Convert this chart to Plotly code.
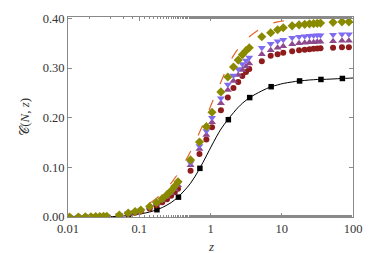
import plotly.graph_objects as go

# shared z grid of the finite-N series
z = [0.0105, 0.014, 0.0175, 0.021, 0.0245, 0.028, 0.0315, 0.035, 0.0525, 0.07, 0.0875,
     0.105, 0.14, 0.175, 0.21, 0.245, 0.28, 0.315, 0.35, 0.525, 0.70, 0.875, 1.05, 1.4,
     1.75, 2.1, 2.45, 2.8, 3.15, 3.5, 5.25, 7.0, 8.75, 10.5, 14, 17.5, 21, 24.5, 28,
     31.5, 35, 52.5, 70, 87.5]

olive = [0.0, 0.0, 0.0005, 0.0005, 0.001, 0.001, 0.0012, 0.0015, 0.004, 0.008, 0.011,
         0.014, 0.021, 0.029, 0.037, 0.045, 0.053, 0.062, 0.071, 0.115, 0.151, 0.182, 0.211, 0.252,
         0.282, 0.302, 0.316, 0.327, 0.335, 0.341, 0.363, 0.371, 0.377, 0.381, 0.385, 0.387, 0.388, 0.389, 0.3895,
         0.390, 0.3905, 0.392, 0.393, 0.393]

violet = [0.0, 0.0, 0.0005, 0.0005, 0.001, 0.001, 0.0011, 0.0014, 0.0038, 0.0076, 0.0105,
          0.0133, 0.020, 0.0277, 0.0353, 0.043, 0.0505, 0.059, 0.0675, 0.109, 0.143, 0.173, 0.200, 0.239,
          0.267, 0.285, 0.298, 0.308, 0.315, 0.321, 0.341, 0.349, 0.354, 0.357, 0.361, 0.363, 0.364, 0.365, 0.3655,
          0.366, 0.366, 0.367, 0.368, 0.368]

purple = [0.0, 0.0, 0.0004, 0.0005, 0.0009, 0.0009, 0.001, 0.0013, 0.0036, 0.0072, 0.010,
          0.0127, 0.019, 0.0265, 0.0337, 0.041, 0.048, 0.056, 0.064, 0.104, 0.137, 0.165, 0.191, 0.229,
          0.256, 0.274, 0.286, 0.296, 0.303, 0.309, 0.328, 0.336, 0.341, 0.344, 0.348, 0.350, 0.351, 0.352, 0.352,
          0.353, 0.353, 0.354, 0.355, 0.355]

red = [0.0, 0.0, 0.0003, 0.0004, 0.0007, 0.0008, 0.0009, 0.001, 0.003, 0.006, 0.0085,
       0.011, 0.0165, 0.023, 0.0295, 0.036, 0.043, 0.050, 0.057, 0.093, 0.127, 0.156, 0.181, 0.215,
       0.2405, 0.260, 0.272, 0.284, 0.292, 0.298, 0.3135, 0.325, 0.328, 0.331, 0.334, 0.336, 0.337, 0.338, 0.339,
       0.3395, 0.340, 0.341, 0.342, 0.342]

# black reference curve and its square markers
z_line = [0.01, 0.0105, 0.014, 0.0175, 0.021, 0.0245, 0.028, 0.0315, 0.035, 0.0525, 0.07, 0.0875,
          0.105, 0.14, 0.175, 0.21, 0.245, 0.28, 0.315, 0.35, 0.525, 0.70, 0.875, 1.05, 1.4,
          1.75, 2.1, 2.45, 2.8, 3.15, 3.5, 5.25, 7.0, 8.75, 10.5, 14, 17.5, 21, 24.5, 28,
          31.5, 35, 52.5, 70, 87.5, 100]
black_line = [0.0, 0.0, 0.0, 0.0, 0.0, 0.0, 0.0002, 0.0003, 0.0005, 0.0015, 0.003, 0.005,
              0.0065, 0.010, 0.0145, 0.019, 0.024, 0.029, 0.0345, 0.040, 0.068, 0.097, 0.123, 0.145, 0.177,
              0.196, 0.210, 0.221, 0.229, 0.235, 0.240, 0.254, 0.262, 0.266, 0.269, 0.272, 0.274, 0.275, 0.276, 0.2765,
              0.277, 0.277, 0.278, 0.279, 0.2795, 0.28]
dashed_line = [0.0, 0.0, 0.0005, 0.001, 0.0012, 0.0015, 0.002, 0.0025, 0.003, 0.006, 0.010, 0.014,
               0.019, 0.028, 0.038, 0.048, 0.058, 0.068, 0.078, 0.087, 0.132, 0.170, 0.202, 0.230, 0.272,
               0.304, 0.325, 0.339, 0.349, 0.357, 0.363, 0.381, 0.389, 0.393, 0.395, 0.398, 0.3995, 0.4005, 0.401, 0.4015,
               0.402, 0.402, 0.4025, 0.403, 0.403, 0.403]

z_sq = [0.0708, 0.177, 0.355, 0.71, 1.78, 3.55, 7.1, 17.8, 35.5, 71]
black_sq = [0.001, 0.0147, 0.040, 0.098, 0.196, 0.2405, 0.2624, 0.274, 0.277, 0.279]

x_ticks = [0.01, 0.1, 1, 10, 100]
x_ticktext = ["0.01", "0.1", "1", "10", "100"]
y_ticks = [0.0, 0.1, 0.2, 0.3, 0.4]
y_ticktext = ["0.00", "0.10", "0.20", "0.30", "0.40"]

FONT = "Liberation Serif"

fig = go.Figure()
fig.add_trace(go.Scatter(x=z_line, y=dashed_line, mode="lines", line=dict(color="#E0642E", width=1.2, dash="11px,17px", shape="spline")))
fig.add_trace(go.Scatter(x=z_line, y=black_line, mode="lines", line=dict(color="black", width=1, shape="spline")))
fig.add_trace(go.Scatter(x=z_sq, y=black_sq, mode="markers", marker=dict(symbol="square", size=5.5, color="black")))
fig.add_trace(go.Scatter(x=z, y=red, mode="markers", marker=dict(symbol="circle", size=6, color="#8E1C1C")))
fig.add_trace(go.Scatter(x=z, y=purple, mode="markers", marker=dict(symbol="triangle-up", size=7, color="#8E4A8E")))
fig.add_trace(go.Scatter(x=z, y=violet, mode="markers", marker=dict(symbol="triangle-down", size=7, color="#7F6CF0")))
fig.add_trace(go.Scatter(x=z, y=olive, mode="markers", marker=dict(symbol="diamond", size=7, color="#8A8A00")))

axis_common = dict(showline=True, linecolor="#8a8a8a", linewidth=1, mirror="allticks",
                   ticks="inside", tickcolor="#8a8a8a", showgrid=False, zeroline=False,
                   tickfont=dict(family=FONT, size=12.5, color="#333333"))
fig.update_xaxes(type="log", range=[-2, 2], tickvals=x_ticks, ticktext=x_ticktext, ticklen=4,
                 minor=dict(ticks="inside", ticklen=2, tickcolor="#8a8a8a", showgrid=False),
                 **axis_common)
fig.update_yaxes(range=[0, 0.4028], tickvals=y_ticks, ticktext=y_ticktext, ticklen=4,
                 **axis_common)

fig.update_layout(
    width=374, height=253, showlegend=False,
    margin=dict(l=68, r=20, t=14, b=36),
    paper_bgcolor="white", plot_bgcolor="white",
    annotations=[
        dict(text="𝒞(<i>N</i>, <i>z</i>)", xref="paper", yref="paper", x=-0.155, y=0.5,
             xanchor="center", yanchor="middle", textangle=-90, showarrow=False,
             font=dict(family=FONT, size=13, color="#333333")),
        dict(text="<i>z</i>", xref="paper", yref="paper", x=0.5, y=-0.148,
             xanchor="center", yanchor="middle", showarrow=False,
             font=dict(family=FONT, size=13, color="#333333")),
    ],
)
fig.write_html("out.html", config={"displayModeBar": False},
               post_script="document.body.style.margin='0px';document.body.style.overflow='hidden';")
